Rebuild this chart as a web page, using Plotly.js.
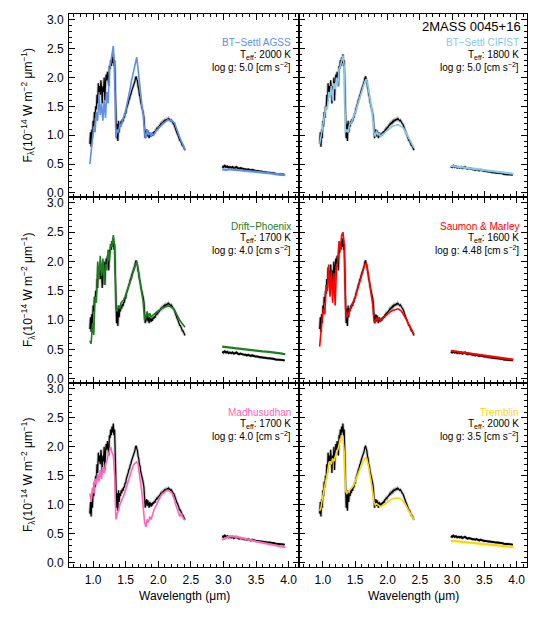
<!DOCTYPE html>
<html><head><meta charset="utf-8">
<script src="https://cdn.plot.ly/plotly-3.0.1.min.js"></script>
<style>html,body{margin:0;padding:0;background:#fff}#chart{width:538px;height:619px}</style>
</head><body><div id="chart"></div>
<script>
// ---- observed spectrum of 2MASS 0045+16 (near-IR) ----
const obsWave = [0.95,0.96,0.97,0.98,0.99,1.00,1.01,1.02,1.03,1.04,1.05,1.06,1.07,1.08,1.09,1.10,1.11,1.12,1.13,1.14,1.15,1.16,1.17,1.18,1.19,1.20,1.21,1.22,1.23,1.24,1.25,1.26,1.27,1.28,1.29,1.30,1.31,1.32,1.33,1.34,1.35,1.36,1.37,1.38,1.39,1.40,1.41,1.42,1.43,1.44,1.45,1.46,1.47,1.48,1.49,1.50,1.51,1.52,1.53,1.54,1.55,1.56,1.57,1.58,1.59,1.60,1.61,1.62,1.63,1.64,1.65,1.66,1.67,1.68,1.69,1.70,1.71,1.72,1.73,1.74,1.75,1.76,1.77,1.78,1.79,1.80,1.81,1.82,1.83,1.84,1.85,1.86,1.87,1.88,1.89,1.90,1.91,1.92,1.93,1.94,1.95,1.96,1.97,1.98,1.99,2.00,2.01,2.02,2.03,2.04,2.05,2.06,2.07,2.08,2.09,2.10,2.11,2.12,2.13,2.14,2.15,2.16,2.17,2.18,2.19,2.20,2.21,2.22,2.23,2.24,2.25,2.26,2.27,2.28,2.29,2.30,2.31,2.32,2.33,2.34,2.35,2.36,2.37,2.38,2.39,2.40,2.41];
const obsFlux = [0.85,1.05,0.80,1.10,0.95,1.25,1.15,1.40,1.30,1.50,1.45,1.70,1.55,1.90,1.75,1.85,1.70,1.95,1.80,1.55,1.85,1.75,2.00,1.60,1.90,2.05,1.95,2.10,2.00,1.85,2.20,2.15,2.30,2.20,2.35,2.25,2.40,2.20,2.30,1.70,1.10,0.95,1.20,0.90,1.25,1.05,1.20,1.15,1.25,1.20,1.28,1.24,1.31,1.30,1.38,1.37,1.45,1.48,1.52,1.56,1.61,1.63,1.69,1.71,1.76,1.79,1.84,1.86,1.91,1.93,1.99,2.02,1.97,1.94,1.84,1.80,1.70,1.67,1.58,1.54,1.46,1.42,1.38,1.30,1.10,0.95,1.05,1.10,0.98,1.08,1.02,0.95,1.05,1.00,0.97,1.03,0.99,1.05,1.02,1.07,1.04,1.09,1.09,1.12,1.11,1.14,1.14,1.17,1.17,1.20,1.19,1.22,1.21,1.24,1.23,1.26,1.25,1.27,1.26,1.28,1.27,1.29,1.27,1.27,1.25,1.26,1.23,1.23,1.20,1.19,1.15,1.13,1.09,1.07,1.03,1.01,0.96,0.96,0.91,0.91,0.87,0.86,0.82,0.82,0.78,0.77,0.74];
// ---- observed spectrum (L band) ----
const obsWaveL = [2.98,3.00,3.02,3.04,3.06,3.08,3.10,3.12,3.14,3.16,3.18,3.20,3.22,3.24,3.26,3.28,3.30,3.32,3.34,3.36,3.38,3.40,3.42,3.44,3.46,3.48,3.50,3.52,3.54,3.56,3.58,3.60,3.62,3.64,3.66,3.68,3.70,3.72,3.74,3.76,3.78,3.80,3.82,3.84,3.86,3.88,3.90,3.92,3.94];
const obsFluxL = [0.46,0.45,0.47,0.45,0.46,0.44,0.45,0.44,0.45,0.43,0.44,0.45,0.43,0.42,0.43,0.42,0.42,0.41,0.41,0.40,0.41,0.40,0.39,0.40,0.39,0.38,0.38,0.38,0.37,0.37,0.37,0.36,0.36,0.36,0.35,0.35,0.35,0.35,0.34,0.34,0.34,0.33,0.33,0.33,0.33,0.32,0.32,0.32,0.31];

// ---- model grids ----
const modelWave = [0.95,0.97,0.99,1.01,1.03,1.05,1.07,1.09,1.11,1.13,1.15,1.17,1.19,1.21,1.23,1.25,1.27,1.29,1.31,1.33,1.35,1.37,1.39,1.41,1.43,1.45,1.47,1.49,1.51,1.53,1.55,1.57,1.59,1.61,1.63,1.65,1.67,1.69,1.71,1.73,1.75,1.77,1.79,1.81,1.83,1.85,1.87,1.89,1.91,1.93,1.95,1.97,1.99,2.01,2.03,2.05,2.07,2.09,2.11,2.13,2.15,2.17,2.19,2.21,2.23,2.25,2.27,2.29,2.31,2.33,2.35,2.37,2.39,2.41];
const modelWaveL = [2.98,3.05,3.10,3.20,3.30,3.40,3.50,3.60,3.70,3.80,3.90,3.95];

const btSettlAgss = [0.50,0.75,0.95,1.15,1.05,1.40,1.25,1.70,1.35,1.55,1.25,1.60,1.30,1.75,1.55,2.10,2.25,2.40,2.55,2.10,0.95,1.10,1.05,1.20,1.15,1.25,1.30,1.38,1.48,1.58,1.70,1.82,1.95,2.05,2.15,2.28,2.35,2.15,1.90,1.70,1.50,1.35,1.05,0.95,1.10,1.00,1.05,0.98,1.02,1.00,1.05,1.08,1.10,1.13,1.15,1.18,1.20,1.22,1.24,1.25,1.27,1.26,1.26,1.25,1.23,1.22,1.15,1.08,1.00,0.95,0.90,0.86,0.80,0.75];
const btSettlAgssL = [0.41,0.40,0.41,0.40,0.38,0.37,0.36,0.35,0.34,0.33,0.32,0.31];
const btSettlCifist = [0.85,0.95,1.10,1.25,1.35,1.50,1.45,1.75,1.65,1.85,1.60,1.90,1.80,2.00,1.85,2.15,2.20,2.30,2.38,2.20,1.05,1.10,1.05,1.18,1.20,1.25,1.30,1.36,1.42,1.50,1.58,1.65,1.72,1.80,1.86,1.93,1.97,1.90,1.75,1.62,1.48,1.35,1.05,0.98,1.08,1.00,1.03,0.98,1.00,1.02,1.03,1.05,1.07,1.09,1.11,1.13,1.15,1.16,1.17,1.18,1.18,1.18,1.17,1.16,1.14,1.12,1.08,1.03,0.98,0.94,0.90,0.86,0.82,0.78];
const btSettlCifistL = [0.47,0.46,0.45,0.43,0.42,0.40,0.39,0.37,0.36,0.35,0.34,0.33];
const driftPhoenix = [0.65,0.60,0.95,0.75,1.40,1.30,2.00,1.70,2.10,1.75,2.05,1.60,1.95,1.85,2.20,2.00,2.30,2.25,2.45,2.25,1.20,1.15,1.25,1.20,1.30,1.32,1.35,1.40,1.46,1.52,1.58,1.65,1.72,1.80,1.86,1.95,2.00,1.88,1.75,1.60,1.45,1.30,1.00,1.05,1.15,1.05,1.12,1.05,1.08,1.10,1.12,1.14,1.15,1.17,1.18,1.20,1.21,1.22,1.23,1.24,1.24,1.24,1.23,1.22,1.20,1.17,1.12,1.08,1.04,1.00,0.97,0.94,0.91,0.88];
const driftPhoenixL = [0.55,0.54,0.53,0.52,0.51,0.49,0.48,0.47,0.46,0.45,0.43,0.42];
const saumonMarley = [0.55,0.85,1.05,1.20,1.10,1.60,1.50,1.95,1.40,1.85,1.30,1.80,1.25,1.90,2.00,2.35,2.20,2.45,2.50,2.30,1.20,1.05,1.10,1.15,1.20,1.25,1.30,1.36,1.42,1.50,1.57,1.64,1.72,1.80,1.88,1.95,1.97,1.88,1.72,1.58,1.42,1.28,1.00,0.95,1.05,1.00,1.03,1.00,1.02,1.04,1.06,1.08,1.10,1.12,1.14,1.15,1.16,1.17,1.18,1.19,1.19,1.19,1.18,1.16,1.13,1.10,1.06,1.02,0.97,0.93,0.89,0.85,0.80,0.76];
const saumonMarleyL = [0.48,0.47,0.46,0.44,0.43,0.41,0.40,0.38,0.37,0.36,0.34,0.33];
const madhusudhan = [1.20,1.05,1.30,1.20,1.45,1.35,1.55,1.40,1.60,1.45,1.65,1.55,1.70,1.75,1.85,1.95,2.00,1.90,1.85,1.50,0.75,0.85,0.90,1.00,1.05,1.10,1.15,1.22,1.30,1.38,1.46,1.54,1.60,1.66,1.70,1.73,1.74,1.70,1.55,1.40,1.20,0.95,0.70,0.62,0.75,0.70,0.80,0.75,0.85,0.90,0.95,1.00,1.05,1.10,1.14,1.18,1.20,1.22,1.24,1.25,1.25,1.24,1.22,1.20,1.15,1.08,1.00,0.92,0.85,0.80,0.85,0.80,0.76,0.74];
const madhusudhanL = [0.40,0.44,0.46,0.45,0.43,0.40,0.37,0.35,0.33,0.31,0.28,0.27];
const tremblin = [0.90,0.95,1.10,1.20,1.35,1.45,1.55,1.70,1.75,1.70,1.80,1.75,1.85,1.90,1.95,2.05,2.12,2.18,2.15,1.90,1.25,1.20,1.22,1.25,1.28,1.30,1.33,1.38,1.43,1.48,1.54,1.60,1.66,1.72,1.77,1.80,1.81,1.75,1.65,1.52,1.38,1.22,1.05,1.00,1.02,1.00,0.98,0.97,0.98,0.99,1.00,1.02,1.04,1.06,1.08,1.09,1.10,1.11,1.12,1.12,1.12,1.12,1.11,1.10,1.08,1.05,1.02,0.98,0.94,0.90,0.86,0.82,0.78,0.74];
const tremblinL = [0.38,0.38,0.37,0.36,0.35,0.34,0.33,0.32,0.31,0.30,0.28,0.27];

const modelNames = ["BT\u2212Settl AGSS","BT\u2212Settl CIFIST","Drift\u2212Phoenix","Saumon & Marley","Madhusudhan","Tremblin"];
const modelColors = ["#5f8fe8","#87c8ea","#1e7d1e","#ff0000","#ff66b8","#ffd700"];
const modelTeff = ["2000","1800","1700","1600","1700","2000"];
const modelLogg = ["5.0","5.0","4.0","4.48","4.0","3.5"];
const modelNir = [btSettlAgss, btSettlCifist, driftPhoenix, saumonMarley, madhusudhan, tremblin];
const modelL = [btSettlAgssL, btSettlCifistL, driftPhoenixL, saumonMarleyL, madhusudhanL, tremblinL];
const objectName = "2MASS 0045+16";

const W = 538, H = 619;
const colPx = [[69,299],[299,527]];
const rowPx = [[14,197],[197,383],[383,567]];
const FONT = "Liberation Sans, Arial, Helvetica, sans-serif";

const traces = [];
const layout = {
  width: W, height: H, margin: {l:0,r:0,t:0,b:0},
  paper_bgcolor: "#fff", plot_bgcolor: "#fff", showlegend: false,
  font: {family: FONT, size: 12, color: "#000"},
  annotations: []
};

for (let i = 0; i < 6; i++) {
  const r = Math.floor(i / 2), c = i % 2;
  const xa = i === 0 ? "x" : "x" + (i + 1);
  const ya = i === 0 ? "y" : "y" + (i + 1);
  const common = {xaxis: xa, yaxis: ya, mode: "lines", hoverinfo: "skip"};
  traces.push(Object.assign({x: obsWave, y: obsFlux, line: {color: "#c6c6c6", width: 3}}, common));
  traces.push(Object.assign({x: obsWaveL, y: obsFluxL, line: {color: "#c6c6c6", width: 3}}, common));
  traces.push(Object.assign({x: obsWave, y: obsFlux, line: {color: "#000", width: 1.2}}, common));
  traces.push(Object.assign({x: obsWaveL, y: obsFluxL, line: {color: "#000", width: 2}}, common));
  traces.push(Object.assign({x: modelWave, y: modelNir[i], line: {color: modelColors[i], width: 1.6}}, common));
  traces.push(Object.assign({x: modelWaveL, y: modelL[i], line: {color: modelColors[i], width: 2.2}}, common));

  const xd = [colPx[c][0] / W, colPx[c][1] / W];
  const yd = [1 - rowPx[r][1] / H, 1 - rowPx[r][0] / H];
  const axBase = {
    showline: true, linecolor: "#000", linewidth: 1, mirror: "allticks",
    ticks: "inside", ticklen: 6, tickwidth: 1, tickcolor: "#000",
    showgrid: false, zeroline: false, tickformat: ".1f", dtick: 0.5, tick0: 0,
    minor: {ticks: "inside", ticklen: 3, tickwidth: 1, tickcolor: "#000", dtick: 0.1, showgrid: false},
    tickfont: {family: FONT, size: 12, color: "#000"}, fixedrange: true
  };
  layout[i === 0 ? "xaxis" : "xaxis" + (i + 1)] = Object.assign({}, axBase, {
    domain: xd, range: [0.63, 4.16], anchor: ya, showticklabels: r === 2, ticklabelstandoff: 2
  });
  layout[i === 0 ? "yaxis" : "yaxis" + (i + 1)] = Object.assign({}, axBase, {
    domain: yd, range: [-0.07, 3.1], anchor: xa, showticklabels: c === 0, ticklabelstandoff: 2
  });

  const xr = (colPx[c][1] - 6) / W;
  const top = rowPx[r][0];
  layout.annotations.push({xref: "paper", yref: "paper", x: xr, y: 1 - (top + 29) / H, xanchor: "right", yanchor: "middle",
    text: modelNames[i], showarrow: false, font: {family: FONT, size: 10, color: modelColors[i]}});
  layout.annotations.push({xref: "paper", yref: "paper", x: xr, y: 1 - (top + 41) / H, xanchor: "right", yanchor: "middle",
    text: "T<sub>eff</sub>: " + modelTeff[i] + " K", showarrow: false, font: {family: FONT, size: 10, color: "#000"}});
  layout.annotations.push({xref: "paper", yref: "paper", x: xr, y: 1 - (top + 53) / H, xanchor: "right", yanchor: "middle",
    text: "log g: " + modelLogg[i] + " [cm s<sup>\u22122</sup>]", showarrow: false, font: {family: FONT, size: 10, color: "#000"}});

  if (c === 0) {
    layout.annotations.push({xref: "paper", yref: "paper", x: 28 / W, y: 1 - (rowPx[r][0] + rowPx[r][1]) / 2 / H,
      xanchor: "center", yanchor: "middle", textangle: -90, showarrow: false,
      text: "F<sub>\u03bb</sub>(10<sup>\u221214</sup> W m<sup>\u22122</sup> \u03bcm<sup>\u22121</sup>)",
      font: {family: FONT, size: 12, color: "#000"}});
  }
  if (r === 2) {
    layout.annotations.push({xref: "paper", yref: "paper", x: (colPx[c][0] + colPx[c][1]) / 2 / W, y: 1 - 596 / H,
      xanchor: "center", yanchor: "middle", showarrow: false, text: "Wavelength (\u03bcm)",
      font: {family: FONT, size: 12, color: "#000"}});
  }
}
layout.annotations.push({xref: "paper", yref: "paper", x: 523 / W, y: 1 - 27 / H, xanchor: "right", yanchor: "middle",
  text: objectName, showarrow: false, font: {family: FONT, size: 13, color: "#000"}});

Plotly.newPlot("chart", traces, layout, {staticPlot: true, displayModeBar: false});
</script></body></html>
